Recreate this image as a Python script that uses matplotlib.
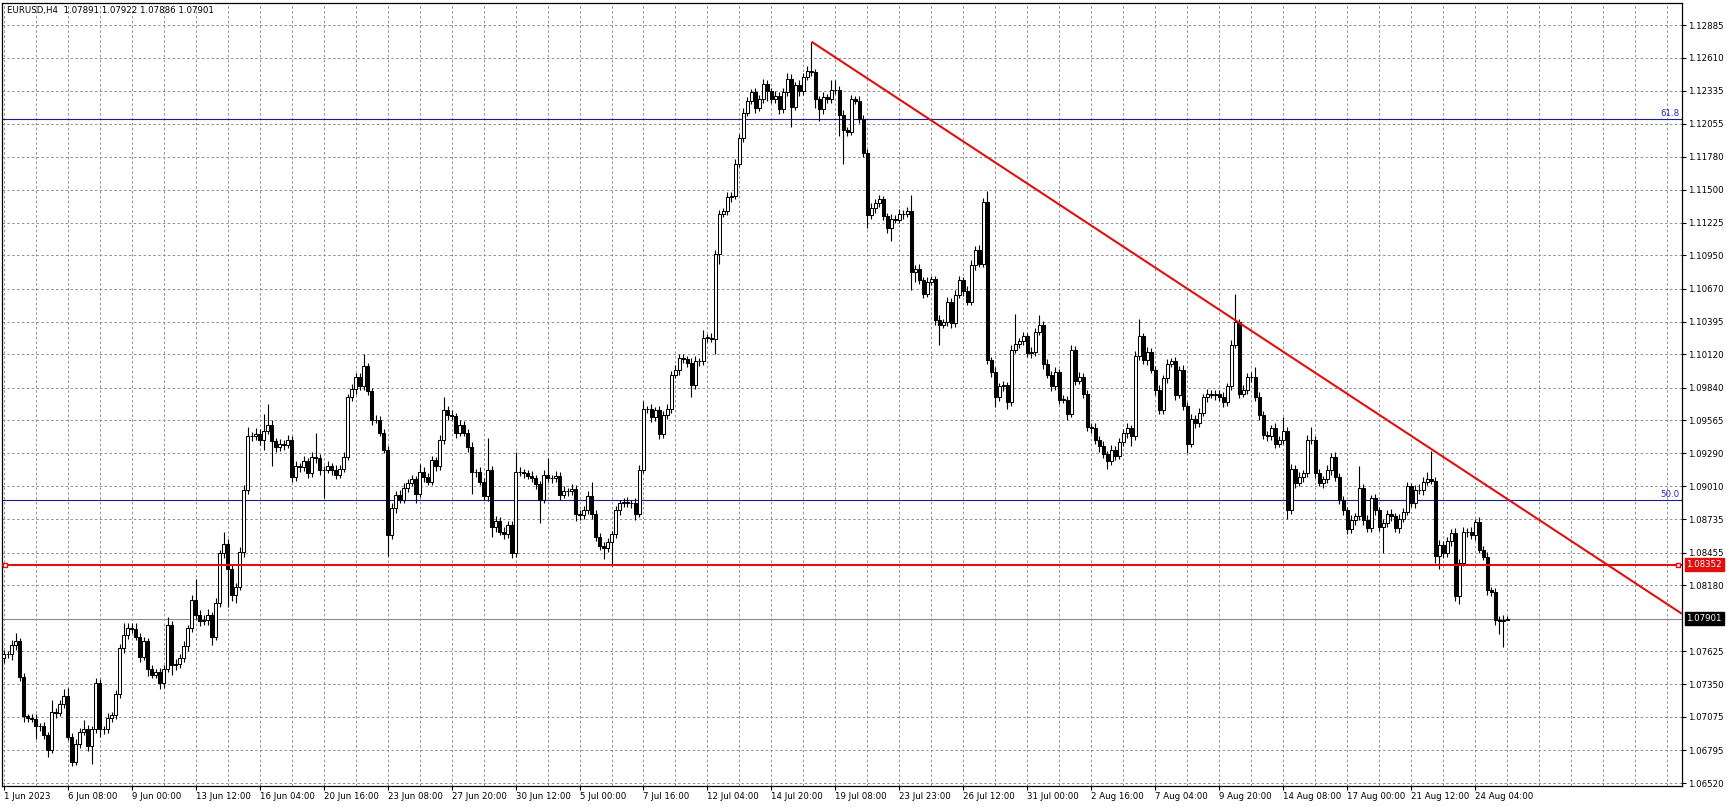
import numpy as np
import matplotlib.pyplot as plt
from matplotlib.transforms import blended_transform_factory

# EURUSD H4 candles, 1 Jun - 25 Aug 2023
first_open = 1.0757
closes = [
    1.0760, 1.0760, 1.0768, 1.0771, 1.0741, 1.0708, 1.0707, 1.0706, 1.0700, 1.0700, 1.0692, 1.0680, 1.0712, 1.0711, 1.0718, 1.0725,
    1.0691, 1.0670, 1.0685, 1.0695, 1.0697, 1.0683, 1.0697, 1.0736, 1.0697, 1.0697, 1.0707, 1.0709, 1.0727, 1.0765, 1.0776, 1.0782,
    1.0781, 1.0775, 1.0758, 1.0771, 1.0748, 1.0743, 1.0745, 1.0736, 1.0748, 1.0785, 1.0751, 1.0752, 1.0757, 1.0767, 1.0782, 1.0806,
    1.0793, 1.0788, 1.0789, 1.0793, 1.0775, 1.0803, 1.0845, 1.0853, 1.0832, 1.0810, 1.0817, 1.0846, 1.0898, 1.0943, 1.0943, 1.0945,
    1.0940, 1.0948, 1.0953, 1.0939, 1.0934, 1.0937, 1.0936, 1.0940, 1.0909, 1.0918, 1.0917, 1.0922, 1.0912, 1.0926, 1.0925, 1.0915,
    1.0915, 1.0918, 1.0915, 1.0911, 1.0916, 1.0926, 1.0976, 1.0983, 1.0993, 1.0985, 1.1002, 1.0981, 1.0957, 1.0957, 1.0946, 1.0932,
    1.0860, 1.0883, 1.0894, 1.0890, 1.0900, 1.0904, 1.0907, 1.0895, 1.0913, 1.0909, 1.0905, 1.0923, 1.0918, 1.0940, 1.0965, 1.0961,
    1.0960, 1.0946, 1.0953, 1.0946, 1.0934, 1.0913, 1.0913, 1.0905, 1.0893, 1.0915, 1.0867, 1.0872, 1.0863, 1.0861, 1.0869, 1.0845,
    1.0913, 1.0913, 1.0912, 1.0910, 1.0908, 1.0903, 1.0890, 1.0911, 1.0908, 1.0908, 1.0910, 1.0894, 1.0897, 1.0897, 1.0899, 1.0878,
    1.0877, 1.0881, 1.0893, 1.0878, 1.0859, 1.0851, 1.0849, 1.0854, 1.0861, 1.0881, 1.0887, 1.0888, 1.0887, 1.0887, 1.0878, 1.0915,
    1.0966, 1.0966, 1.0959, 1.0965, 1.0945, 1.0961, 1.0966, 1.0995, 1.0999, 1.1009, 1.1008, 1.1005, 1.0986, 1.1006, 1.1006, 1.1026,
    1.1026, 1.1025, 1.1096, 1.1130, 1.1132, 1.1144, 1.1145, 1.1172, 1.1194, 1.1215, 1.1225, 1.1232, 1.1219, 1.1226, 1.1239, 1.1233,
    1.1226, 1.1229, 1.1218, 1.1232, 1.1243, 1.1220, 1.1238, 1.1233, 1.1245, 1.1250, 1.1249, 1.1226, 1.1218, 1.1228, 1.1226, 1.1234,
    1.1234, 1.1213, 1.1200, 1.1199, 1.1226, 1.1225, 1.1210, 1.1181, 1.1129, 1.1135, 1.1139, 1.1142, 1.1128, 1.1118, 1.1126, 1.1125,
    1.1130, 1.1130, 1.1132, 1.1081, 1.1084, 1.1074, 1.1063, 1.1073, 1.1075, 1.1041, 1.1037, 1.1039, 1.1056, 1.1038, 1.1062, 1.1074,
    1.1065, 1.1056, 1.1087, 1.1100, 1.1088, 1.1140, 1.1007, 1.0997, 1.0976, 1.0985, 1.0986, 1.0972, 1.1016, 1.1021, 1.1023, 1.1027,
    1.1013, 1.1014, 1.1031, 1.1037, 1.1004, 1.0995, 1.0985, 1.0997, 1.0974, 1.0974, 1.0962, 1.1016, 1.0990, 1.0993, 1.0979, 1.0951,
    1.0950, 1.0940, 1.0935, 1.0928, 1.0922, 1.0932, 1.0927, 1.0938, 1.0946, 1.0950, 1.0943, 1.1011, 1.1027, 1.1007, 1.1014, 1.0999,
    1.0982, 1.0965, 1.0992, 1.1004, 1.1006, 1.0978, 1.0999, 1.0969, 1.0937, 1.0958, 1.0954, 1.0963, 1.0976, 1.0979, 1.0978, 1.0979,
    1.0976, 1.0972, 1.0985, 1.1020, 1.1039, 1.0979, 1.0982, 1.0993, 1.0993, 1.0976, 1.0961, 1.0944, 1.0943, 1.0950, 1.0937, 1.0940,
    1.0948, 1.0881, 1.0916, 1.0904, 1.0909, 1.0912, 1.0940, 1.0940, 1.0912, 1.0904, 1.0907, 1.0915, 1.0926, 1.0909, 1.0890, 1.0881,
    1.0865, 1.0873, 1.0876, 1.0900, 1.0873, 1.0866, 1.0891, 1.0881, 1.0867, 1.0870, 1.0878, 1.0876, 1.0866, 1.0874, 1.0880, 1.0901,
    1.0887, 1.0898, 1.0898, 1.0905, 1.0907, 1.0906, 1.0843, 1.0852, 1.0845, 1.0855, 1.0862, 1.0809, 1.0837, 1.0863, 1.0863, 1.0860,
    1.0871, 1.0848, 1.0842, 1.0814, 1.0812, 1.0789, 1.0788, 1.0789, 1.07901,
]
# wick lengths above / below the body, in pips
upper_wick = [
    4, 3, 4, 7, 3, 3, 2, 3, 4, 2, 3, 3, 10, 3, 4, 6,
    7, 3, 4, 3, 8, 4, 3, 4, 3, 3, 4, 3, 3, 4, 10, 4,
    4, 5, 3, 4, 3, 3, 3, 4, 3, 6, 3, 4, 3, 4, 3, 4,
    17, 4, 4, 5, 3, 4, 3, 10, 4, 3, 3, 4, 4, 8, 4, 5,
    4, 14, 17, 4, 3, 4, 3, 4, 3, 4, 3, 5, 3, 4, 20, 3,
    3, 4, 3, 4, 3, 4, 3, 4, 3, 3, 10, 3, 3, 4, 3, 3,
    3, 4, 3, 4, 4, 3, 4, 3, 7, 4, 3, 4, 3, 4, 11, 4,
    4, 3, 4, 3, 3, 4, 3, 4, 3, 27, 3, 4, 3, 4, 3, 3,
    17, 4, 3, 3, 4, 3, 3, 4, 14, 3, 4, 3, 4, 3, 4, 3,
    3, 4, 4, 12, 3, 3, 3, 4, 3, 4, 3, 3, 4, 3, 4, 4,
    7, 3, 4, 3, 4, 3, 4, 3, 4, 3, 3, 3, 4, 5, 3, 6,
    3, 4, 4, 3, 3, 4, 3, 4, 3, 4, 3, 3, 4, 4, 4, 3,
    3, 4, 3, 4, 5, 4, 3, 4, 3, 4, 24, 3, 3, 4, 3, 8,
    8, 3, 4, 3, 4, 3, 4, 3, 3, 4, 3, 4, 3, 3, 4, 3,
    4, 3, 4, 14, 3, 4, 3, 4, 3, 3, 4, 3, 4, 3, 4, 4,
    3, 4, 4, 3, 4, 3, 9, 3, 4, 3, 4, 3, 4, 25, 3, 4,
    3, 4, 3, 8, 3, 4, 3, 4, 3, 4, 3, 4, 3, 4, 3, 3,
    3, 4, 3, 4, 3, 4, 3, 4, 3, 4, 3, 4, 15, 3, 4, 3,
    3, 4, 3, 4, 3, 4, 3, 4, 3, 4, 3, 4, 3, 4, 3, 3,
    3, 4, 3, 4, 24, 3, 4, 3, 4, 8, 4, 3, 4, 3, 4, 3,
    11, 3, 4, 3, 4, 3, 4, 11, 3, 4, 3, 4, 3, 4, 3, 3,
    3, 4, 3, 18, 3, 4, 3, 4, 3, 4, 3, 4, 3, 4, 3, 4,
    3, 4, 5, 4, 6, 24, 3, 4, 3, 4, 3, 4, 3, 4, 3, 4,
    3, 4, 3, 4, 3, 4, 3, 4, 2.1,
]
lower_wick = [
    4, 3, 5, 4, 3, 5, 4, 3, 11, 4, 3, 6, 3, 4, 3, 3,
    3, 4, 3, 4, 3, 4, 15, 3, 6, 4, 3, 4, 3, 4, 4, 3,
    3, 3, 4, 3, 6, 3, 3, 5, 4, 3, 8, 4, 3, 3, 4, 3,
    3, 4, 3, 4, 7, 3, 3, 4, 32, 5, 7, 3, 4, 3, 4, 3,
    4, 8, 3, 21, 4, 3, 4, 3, 4, 3, 4, 3, 4, 3, 4, 4,
    24, 3, 4, 4, 3, 3, 3, 3, 4, 3, 3, 3, 4, 3, 3, 3,
    17, 3, 4, 3, 3, 4, 3, 8, 3, 4, 3, 3, 4, 3, 3, 4,
    3, 4, 3, 3, 4, 18, 4, 3, 3, 4, 8, 4, 3, 4, 3, 4,
    3, 3, 4, 3, 3, 4, 20, 3, 3, 4, 3, 4, 3, 4, 3, 6,
    4, 3, 3, 4, 4, 3, 9, 3, 20, 3, 4, 3, 3, 4, 5, 3,
    3, 3, 4, 3, 4, 3, 3, 3, 3, 4, 3, 4, 10, 3, 4, 3,
    4, 3, 13, 8, 3, 3, 4, 3, 3, 4, 3, 3, 4, 3, 3, 8,
    3, 3, 4, 3, 3, 17, 3, 4, 3, 3, 3, 7, 10, 4, 3, 3,
    3, 18, 28, 4, 3, 3, 4, 3, 11, 3, 4, 3, 3, 4, 11, 3,
    3, 4, 3, 15, 8, 3, 4, 3, 3, 4, 17, 3, 3, 4, 3, 3,
    4, 3, 3, 4, 3, 3, 3, 4, 8, 3, 4, 6, 3, 3, 4, 3,
    3, 4, 3, 3, 4, 3, 4, 3, 4, 3, 5, 3, 4, 3, 4, 3,
    4, 3, 5, 3, 6, 3, 4, 3, 3, 4, 8, 3, 4, 3, 4, 3,
    4, 3, 3, 4, 3, 4, 3, 4, 8, 3, 4, 3, 3, 4, 3, 4,
    3, 4, 3, 3, 3, 4, 3, 3, 4, 3, 4, 3, 4, 3, 4, 3,
    3, 7, 3, 4, 3, 4, 3, 3, 4, 3, 4, 3, 4, 3, 4, 4,
    4, 3, 4, 3, 4, 3, 3, 4, 3, 22, 3, 4, 3, 4, 3, 3,
    3, 4, 3, 4, 3, 3, 6, 11, 4, 3, 4, 4, 7, 3, 4, 3,
    4, 3, 3, 4, 3, 4, 11, 22, 0.5,
]

x_labels = ["1 Jun 2023", "6 Jun 08:00", "9 Jun 00:00", "13 Jun 12:00", "16 Jun 04:00",
            "20 Jun 16:00", "23 Jun 08:00", "27 Jun 20:00", "30 Jun 12:00", "5 Jul 00:00",
            "7 Jul 16:00", "12 Jul 04:00", "14 Jul 20:00", "19 Jul 08:00", "23 Jul 23:00",
            "26 Jul 12:00", "31 Jul 00:00", "2 Aug 16:00", "7 Aug 04:00", "9 Aug 20:00",
            "14 Aug 08:00", "17 Aug 00:00", "21 Aug 12:00", "24 Aug 04:00"]
y_ticks = [1.06520, 1.06795, 1.07075, 1.07350, 1.07625, 1.08180, 1.08455, 1.08735,
           1.09010, 1.09290, 1.09565, 1.09840, 1.10120, 1.10395, 1.10670, 1.10950,
           1.11225, 1.11500, 1.11780, 1.12055, 1.12335, 1.12610, 1.12885]
hidden_tick = 1.07900

fib_levels = [1.12093, 1.08894]
fib_names = ["61.8", "50.0"]
support_level = 1.08352
bid_price = 1.07901
trend_x = [202, 308]
trend_y = [1.12745, 1.10405]
quote = "EURUSD,H4  1.07891 1.07922 1.07886 1.07901"

# ---- build OHLC
closes = np.array(closes)
opens = np.concatenate([[first_open], closes[:-1]])
highs = np.maximum(opens, closes) + np.array(upper_wick) * 0.0001
lows = np.minimum(opens, closes) - np.array(lower_wick) * 0.0001
idx = np.arange(len(closes))

plt.rcParams['font.family'] = ['DejaVu Sans']
fig = plt.figure(figsize=(17.27, 8.07), dpi=100)
ax = fig.add_axes([0.00116, 0.02602, 0.97278, 0.97026])
x_min, x_max = -0.375, 419.625
ax.set_xlim(x_min, x_max)
ax.set_ylim(1.06495, 1.13070)

# grid
ax.set_xticks(np.arange(0, 16 * len(x_labels), 16))
ax.set_xticklabels(x_labels)
ax.set_xticks(np.arange(8, 420, 8), minor=True)
ax.set_yticks(y_ticks)
ax.set_yticklabels([f"{v:.5f}" for v in y_ticks])
ax.set_yticks([hidden_tick], minor=True)
ax.grid(True, which='both', color='#929292', linestyle=(0, (2.6, 2.4)), linewidth=0.7)
ax.set_axisbelow(True)

ax.yaxis.tick_right()
ax.tick_params(axis='both', which='major', direction='out', length=3, width=0.8,
               labelsize=6.2, pad=1.5, colors='black')
ax.tick_params(axis='both', which='minor', length=0)
for lab in ax.get_xticklabels():
    lab.set_horizontalalignment('left')
for sp in ax.spines.values():
    sp.set_linewidth(0.9)
    sp.set_color('black')

# candles
ax.vlines(idx, lows, highs, color='black', linewidth=0.8, zorder=3)
up = closes >= opens
body_bottom = np.minimum(opens, closes)
body_height = np.maximum(np.abs(closes - opens), 0.00002)
ax.bar(idx[up], body_height[up], bottom=body_bottom[up], width=0.58,
       facecolor='white', edgecolor='black', linewidth=0.75, zorder=4)
ax.bar(idx[~up], body_height[~up], bottom=body_bottom[~up], width=0.58,
       facecolor='black', edgecolor='black', linewidth=0.75, zorder=4)

trans = blended_transform_factory(ax.transAxes, ax.transData)

# fibo levels
for lvl, name in zip(fib_levels, fib_names):
    ax.axhline(lvl, color='#1b1b96', linewidth=0.8, zorder=2)
    ax.text(0.9985, lvl + 0.00012, name, transform=trans, ha='right', va='bottom',
            fontsize=6.2, color='#2a2ac8', zorder=6)

# current bid line
ax.axhline(bid_price, color='#8a8a8a', linewidth=0.8, zorder=2)

# support line with end handles
ax.axhline(support_level, color='#e0100f', linewidth=1.5, zorder=5)
ax.plot([0.0018, 0.9975], [support_level, support_level], transform=trans, linestyle='none',
        marker='s', markersize=3.2, markerfacecolor='white', markeredgecolor='#e0100f',
        markeredgewidth=1.0, clip_on=False, zorder=6)

# downtrend line
slope = (trend_y[1] - trend_y[0]) / (trend_x[1] - trend_x[0])
ax.plot([trend_x[0], x_max], [trend_y[0], trend_y[0] + slope * (x_max - trend_x[0])],
        color='#e0100f', linewidth=1.5, zorder=5, solid_capstyle='butt')

# price boxes on the axis
for price, col in [(support_level, '#e0100f'), (bid_price, 'black')]:
    ax.annotate(f"{price:.5f}", xy=(1, price), xycoords=trans, xytext=(3.2, 0),
                textcoords='offset points', ha='left', va='center', fontsize=6.2,
                color='white', annotation_clip=False, zorder=7,
                bbox=dict(boxstyle='square,pad=0.22', facecolor=col, edgecolor=col))

fig.text(7 / 1727, 1 - 11 / 807, quote, fontsize=6.2, ha='left', va='center')

fig.savefig('out.png', dpi=100)
